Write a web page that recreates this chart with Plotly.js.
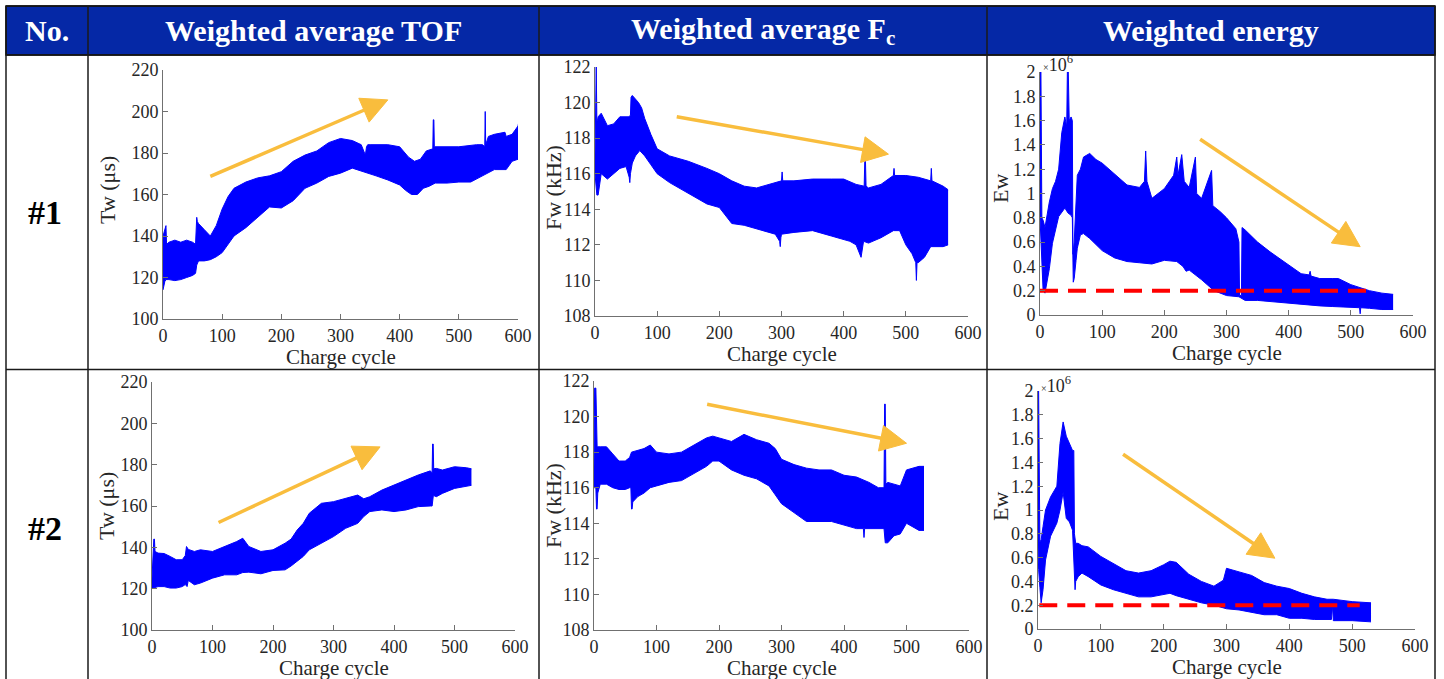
<!DOCTYPE html>
<html><head><meta charset="utf-8">
<script src="https://cdn.plot.ly/plotly-3.0.1.min.js"></script>
<style>html,body{margin:0;padding:0;background:#fff;overflow:hidden}#chart{width:1444px;height:679px}</style>
</head><body><div id="chart"></div>
<script>
// ---------- DATA ----------
const columnHeaders = ["No.", "Weighted average TOF", "Weighted average F<sub>c</sub>", "Weighted energy"];
const rowLabels = ["#1", "#2"];
const xTitle = "Charge cycle";
const yTitles = ["Tw (μs)", "Fw (kHz)", "Ew"];

// Battery #1 - weighted average TOF (μs): upper / lower envelope of the noisy band
const tof1UpX = [0,2,4,5,6,10,20,30,40,50,55,56,57,58,60,70,80,90,100,110,120,140,160,180,200,220,240,260,280,300,320,335,342,344,346,350,380,400,415,425,435,445,456,456.8,457.8,458.6,470,500,530,540,543.8,544.6,545.4,550,560,575,578,580,590,600,602];
const tof1UpY = [140,142,145,145,136,137,138,137,138,137,136,148,149,147,146,143,140,145,153,159,163,166,168,169,171,176,179,181,185,187,186,184,179,183,184,184,184,183,178,176,177,181,182,196,196,183,183,183,184,184,183,200,184,188,189,190,190,188,189,193,196];
const tof1LoX = [0,1,3,5,10,20,30,40,50,55,57,60,70,80,90,100,110,120,140,160,180,200,220,240,260,280,300,320,340,360,380,400,410,420,430,440,450,460,480,500,520,540,545,560,580,590,600,602];
const tof1LoY = [114,116,118,119,119,118.5,119,120,121,122,126,128,128,128.6,130,132,136,140,144,149,154,153.5,157,163,165.5,168.7,170.3,172.7,171,169,167,164.6,162,160,160,163,164,165.5,165.5,166,166,169,170,172,172,176,177,178];

// Battery #1 - weighted average Fc (kHz)
const fc1UpX = [0,1,2,3,4,5,10,20,30,40,50,55,57,58,60,65,70,75,80,90,100,120,150,180,200,220,240,260,280,300,301,302,320,350,380,400,420,433,434,435,436,440,460,480,481,482,500,520,540,541,542,560,568];
const fc1UpY = [117,122,122,119,119,119.2,119.4,118.7,118.8,119.2,119.2,119.2,119.3,120.3,120.4,120.2,120,119.7,119.1,118.2,117.4,117,116.7,116.3,116,115.6,115.3,115.2,115.4,115.6,116.1,115.6,115.6,115.7,115.7,115.7,115.4,115.3,116.8,116.8,115.3,115.2,115.4,115.9,116.3,115.9,115.9,115.8,115.6,116.3,115.6,115.3,115.1];
const fc1LoX = [0,2,3,5,10,20,30,40,50,55,56,57,60,65,72,80,90,100,120,150,180,200,220,240,260,280,290,297,298,299,300,320,350,380,400,410,420,427,428,432,440,460,480,490,500,510,516,517,518,520,530,540,560,568];
const fc1LoY = [116,115,114.8,114.8,116,115.7,116,116.3,116.4,115.8,115.5,116,116.6,117,117.3,117,116.5,116,115.5,114.9,114.3,114.1,113.2,113.1,112.9,112.7,112.6,112.2,111.9,112.4,112.6,112.7,112.8,112.5,112.3,112.2,112,111.4,111.3,112.2,112.1,112.4,112.8,112.8,112,111.5,111,110,111,111,111.3,111.9,111.9,112];

// Battery #1 - weighted energy (×10^6)
const ew1UpX = [0,1.5,3,5,8,15,20,25,30,35,40,43,44,45.5,47,50,52,53,55,58,60,65,70,80,90,100,120,140,160,168,170,172,180,200,215,220,222,228,232,240,250,252,260,276,278,290,300,315,320,321,324,325,330,350,370,400,420,433,434.5,436,450,470,480,500,530,550,568];
const ew1UpY = [2.0,2.0,0.8,0.78,0.72,0.93,1.04,1.1,1.2,1.5,1.63,1.55,2.0,2.0,1.6,1.63,1.6,0.5,0.6,1.0,1.15,1.2,1.3,1.33,1.28,1.25,1.16,1.07,1.05,1.1,1.35,1.1,0.96,1.04,1.15,1.3,1.15,1.32,1.1,1.05,1.3,1.0,0.96,1.19,0.9,0.85,0.8,0.71,0.6,0.16,0.16,0.72,0.7,0.6,0.52,0.41,0.34,0.33,0.36,0.32,0.3,0.3,0.3,0.25,0.2,0.18,0.17];
const ew1LoX = [0,3,5,8,12,15,20,30,40,45,50,52,53.5,55,58,60,65,70,80,100,120,140,160,180,200,220,230,235,240,260,280,300,320,330,350,370,400,420,450,470,500,514,515,516,530,550,568];
const ew1LoY = [0.8,0.5,0.2,0.18,0.3,0.38,0.59,0.81,0.88,0.84,0.82,0.8,0.27,0.3,0.45,0.55,0.66,0.67,0.63,0.53,0.47,0.44,0.43,0.42,0.45,0.44,0.4,0.36,0.37,0.29,0.2,0.16,0.15,0.12,0.12,0.11,0.095,0.09,0.075,0.07,0.06,0.06,0.01,0.06,0.055,0.045,0.045];

// Battery #2 - weighted average TOF (μs)
const tof2UpX = [0,2,3,4,5,10,20,30,40,50,55,57,58,60,70,80,100,120,140,150,160,180,200,220,230,240,250,260,280,300,320,340,350,360,380,400,420,440,460,463,463.8,464.8,465.6,470,480,500,520,528];
const tof2UpY = [125,140,144,144,138,137.2,137,135.6,134,134,136,140.4,140,139,138,138.8,138,140.4,142.8,144.4,140.4,138,138.8,142,144,148.4,151.6,156.5,161.3,162.1,163.7,165.3,163.5,164.5,167.7,170.1,172.5,175,177,176,190,190,178,178.2,177.4,179,178.5,178];
const tof2LoX = [0,2,10,20,30,40,50,55,58,60,70,80,100,120,140,150,160,180,200,220,230,240,250,260,280,300,320,340,350,360,380,400,420,440,460,463,465,466,470,480,500,520,528];
const tof2LoY = [120,120.3,121,121,120.3,120.3,121,122,121,124,121.9,122.7,125.1,126.7,126.7,127.8,128,127.2,128.8,129.1,131,133.1,135.6,138.8,142,145.2,149.2,151.6,154.9,157.3,158.1,157.3,158.1,159.7,160,160,165,165,164.5,166.1,168.5,169.7,170];

// Battery #2 - weighted average Fc (kHz)
const fc2UpX = [0,1,3,4,5,10,20,30,40,50,57,60,70,80,90,100,120,140,160,180,190,200,220,240,260,280,290,300,320,340,360,380,400,420,440,455,464,465,466,467,470,480,490,500,520,528];
const fc2UpY = [117,121.6,121.6,119,118.3,118.3,118.3,117.9,117.5,117.5,117.7,118,118.1,118.2,118.4,118,117.9,118,118.4,118.8,118.9,118.8,118.6,119,118.7,118.5,118.2,117.6,117.3,117.1,117,117,116.7,116.6,116.3,116,116,120.7,120.7,116.2,116.3,116.2,116.1,117,117.2,117.2];
const fc2LoX = [0,3,4,5,6,10,20,30,40,50,57,59,60,61,62,70,80,90,100,120,140,160,180,190,200,220,240,260,280,290,300,320,340,360,380,400,420,431,432,433,440,455,464,466,470,480,490,500,520,528];
const fc2LoY = [116,116,114.8,114.8,115.7,116.2,116.2,116,115.9,115.9,116,116,114.8,114.8,115.2,115.5,115.7,116,116.1,116.3,116.4,116.8,117.2,117.5,117.5,117,116.7,116.5,116.1,115.6,115.1,114.6,114.1,114.1,114.1,113.9,113.7,113.7,113.2,113.7,113.7,113.7,113.7,112.9,112.9,113.3,113.4,114,113.6,113.6];

// Battery #2 - weighted energy (×10^6)
const ew2UpX = [0,1,3,5,8,12,20,30,35,40,45,50,55,57,58,60,64,70,80,100,120,140,160,180,200,210,220,240,260,280,295,300,320,340,360,380,400,420,440,460,470,500,530];
const ew2UpY = [2.0,2.0,0.73,0.75,0.86,1.0,1.11,1.2,1.56,1.74,1.62,1.56,1.5,1.5,0.8,0.72,0.72,0.7,0.69,0.61,0.55,0.49,0.47,0.49,0.54,0.57,0.56,0.46,0.4,0.36,0.41,0.51,0.48,0.45,0.39,0.36,0.34,0.3,0.27,0.25,0.25,0.23,0.22];
const ew2LoX = [0,1,3,5,8,12,20,30,35,40,45,50,55,57,59,60,64,70,80,100,120,140,160,180,200,210,220,240,260,280,300,320,340,360,380,400,420,440,467,468,469,470,500,530];
const ew2LoY = [0.7,0.5,0.35,0.22,0.33,0.58,0.78,0.89,1.0,1.15,0.93,0.9,0.83,0.6,0.33,0.4,0.44,0.47,0.44,0.37,0.33,0.3,0.27,0.27,0.29,0.3,0.28,0.25,0.22,0.2,0.17,0.16,0.14,0.12,0.12,0.09,0.09,0.08,0.08,0.2,0.2,0.07,0.07,0.06];

// Energy threshold (red dashed line), ×10^6
const threshold1X = [0, 534];
const threshold2X = [2, 512];
const thresholdValue = 0.2;

// ---------- LAYOUT ----------
const W = 1444, H = 679;
const px = v => v / W;
const py = v => 1 - v / H;
const FONT = "Liberation Serif, Times New Roman, serif";
const BLUE = "#0000ff";
const ARROW = "#f9bd3d";

const panels = [
  {n:"",  xd:[163,518],  yd:[70,319],  yr:[100,220], dt:20,  up:[tof1UpX,tof1UpY], lo:[tof1LoX,tof1LoY], yt:yTitles[0], ytx:107, yty:190, arrow:[380,205.6,80,168.7]},
  {n:"2", xd:[595,968],  yd:[67,316],  yr:[108,122], dt:2,   up:[fc1UpX,fc1UpY],   lo:[fc1LoX,fc1LoY],   yt:yTitles[1], ytx:553, yty:188, arrow:[472,117.1,131.5,119.2]},
  {n:"3", xd:[1040,1413],yd:[72,315],  yr:[0,2],     dt:0.2, up:[ew1UpX,ew1UpY],   lo:[ew1LoX,ew1LoY],   yt:yTitles[2], ytx:1000, yty:189, arrow:[515,0.562,257.6,1.447], thr:threshold1X, exp:[1041,63]},
  {n:"4", xd:[152,515],  yd:[382,630], yr:[100,220], dt:20,  up:[tof2UpX,tof2UpY], lo:[tof2LoX,tof2LoY], yt:yTitles[0], ytx:106, yty:506, arrow:[377,188.6,110,152]},
  {n:"5", xd:[594,969],  yd:[381,630], yr:[108,122], dt:2,   up:[fc2UpX,fc2UpY],   lo:[fc2LoX,fc2LoY],   yt:yTitles[1], ytx:553, yty:506, arrow:[500,118.5,181,120.69]},
  {n:"6", xd:[1038,1415],yd:[391,629], yr:[0,2],     dt:0.2, up:[ew2UpX,ew2UpY],   lo:[ew2LoX,ew2LoY],   yt:yTitles[2], ytx:1000, yty:507, arrow:[377,0.595,135.4,1.469], thr:threshold2X, exp:[1039,384]}
];

const traces = [];
const layout = {
  width: W, height: H,
  margin: {l:0, r:0, t:0, b:0},
  paper_bgcolor: "#ffffff",
  plot_bgcolor: "#ffffff",
  showlegend: false,
  font: {family: FONT, color: "#262626"},
  shapes: [],
  annotations: []
};

// data <-> pixel helpers for a panel (used only to shape the arrow heads)
function toPix(p, x, y) {
  return [p.xd[0] + x / 600 * (p.xd[1] - p.xd[0]),
          p.yd[1] - (y - p.yr[0]) / (p.yr[1] - p.yr[0]) * (p.yd[1] - p.yd[0])];
}
function toData(p, X, Y) {
  return [(X - p.xd[0]) / (p.xd[1] - p.xd[0]) * 600,
          p.yr[0] + (p.yd[1] - Y) / (p.yd[1] - p.yd[0]) * (p.yr[1] - p.yr[0])];
}

panels.forEach(p => {
  const xa = "x" + p.n, ya = "y" + p.n;
  traces.push({type:"scatter", mode:"lines", x:p.lo[0], y:p.lo[1], xaxis:xa, yaxis:ya,
               line:{color:BLUE, width:1}, hoverinfo:"skip"});
  traces.push({type:"scatter", mode:"lines", x:p.up[0], y:p.up[1], xaxis:xa, yaxis:ya,
               fill:"tonexty", fillcolor:BLUE, line:{color:BLUE, width:1}, hoverinfo:"skip"});
  if (p.thr) {
    traces.push({type:"scatter", mode:"lines", x:p.thr, y:p.thr.map(() => thresholdValue),
                 xaxis:xa, yaxis:ya, line:{color:"#ff0000", width:4, dash:"18px,10px"}, hoverinfo:"skip"});
  }
  const common = {showline:true, linecolor:"#707070", linewidth:1, ticks:"inside", ticklen:5,
                  tickcolor:"#707070", showgrid:false, zeroline:false,
                  tickfont:{family:FONT, size:18, color:"#262626"}};
  layout["xaxis" + p.n] = Object.assign({}, common, {
    domain:[px(p.xd[0]), px(p.xd[1])], range:[0,600], tick0:0, dtick:100, anchor:ya
  });
  layout["yaxis" + p.n] = Object.assign({}, common, {
    domain:[py(p.yd[1]), py(p.yd[0])], range:p.yr, tick0:p.yr[0], dtick:p.dt, anchor:xa
  });
  // axis titles
  layout.annotations.push({xref:"paper", yref:"paper", x:px((p.xd[0]+p.xd[1])/2), y:py(p.yd[1]+38),
    text:xTitle, showarrow:false, xanchor:"center", yanchor:"middle",
    font:{family:FONT, size:21, color:"#262626"}});
  layout.annotations.push({xref:"paper", yref:"paper", x:px(p.ytx), y:py(p.yty),
    text:p.yt, showarrow:false, textangle:-90, xanchor:"center", yanchor:"middle",
    font:{family:FONT, size:22, color:"#262626"}});
  // trend arrow: shaft + filled triangular head
  const tip = toPix(p, p.arrow[0], p.arrow[1]);
  const tail = toPix(p, p.arrow[2], p.arrow[3]);
  const dx = tip[0] - tail[0], dy = tip[1] - tail[1];
  const len = Math.hypot(dx, dy), ux = dx / len, uy = dy / len;
  const headL = 26, headW = 13;
  const base = [tip[0] - ux * headL, tip[1] - uy * headL];
  const c1 = toData(p, base[0] - uy * headW, base[1] + ux * headW);
  const c2 = toData(p, base[0] + uy * headW, base[1] - ux * headW);
  const sEnd = toData(p, base[0] + ux * 3, base[1] + uy * 3);
  layout.shapes.push({type:"line", xref:xa, yref:ya, x0:p.arrow[2], y0:p.arrow[3], x1:sEnd[0], y1:sEnd[1],
    line:{color:ARROW, width:3.5}});
  layout.shapes.push({type:"path", xref:xa, yref:ya,
    path:`M ${p.arrow[0]} ${p.arrow[1]} L ${c1[0]} ${c1[1]} L ${c2[0]} ${c2[1]} Z`,
    fillcolor:ARROW, line:{color:ARROW, width:1}});
  if (p.exp) {
    layout.annotations.push({xref:"paper", yref:"paper", x:px(p.exp[0]), y:py(p.exp[1]),
      text:"<span style='font-size:10px'>×</span>10<sup>6</sup>", showarrow:false,
      xanchor:"left", yanchor:"middle", font:{family:FONT, size:18, color:"#262626"}});
  }
});

// ---------- TABLE FRAME ----------
const L = 6, R = 1435, T = 6, HB = 55, RD = 369.5, B = 679;
const colX = [88, 539, 987];
layout.shapes.push({type:"rect", xref:"paper", yref:"paper", x0:px(L), x1:px(R), y0:py(HB), y1:py(T),
  fillcolor:"#0528a6", line:{color:"#000000", width:1.5}, layer:"below"});
const line = (x0,y0,x1,y1) => ({type:"line", xref:"paper", yref:"paper", x0:px(x0), y0:py(y0), x1:px(x1), y1:py(y1),
  line:{color:"#1a1a1a", width:1.5}});
layout.shapes.push(line(L,T,L,B));
layout.shapes.push(line(R,T,R,B));
layout.shapes.push(line(L,T,R,T));
layout.shapes.push(line(L,HB,R,HB));
layout.shapes.push(line(L,RD,R,RD));
colX.forEach(x => layout.shapes.push(line(x,T,x,B)));

const headerCenters = [47, 313, 763, 1211];
columnHeaders.forEach((t,i) => layout.annotations.push({xref:"paper", yref:"paper",
  x:px(headerCenters[i]), y:py(31), text:"<b>"+t+"</b>", showarrow:false, xanchor:"center", yanchor:"middle",
  font:{family:FONT, size:30, color:"#ffffff"}}));
const rowCenters = [212, 528];
rowLabels.forEach((t,i) => layout.annotations.push({xref:"paper", yref:"paper",
  x:px(45), y:py(rowCenters[i]), text:"<b>"+t+"</b>", showarrow:false, xanchor:"center", yanchor:"middle",
  font:{family:FONT, size:34, color:"#000000"}}));

Plotly.newPlot("chart", traces, layout, {staticPlot:true, displayModeBar:false});
</script></body></html>
